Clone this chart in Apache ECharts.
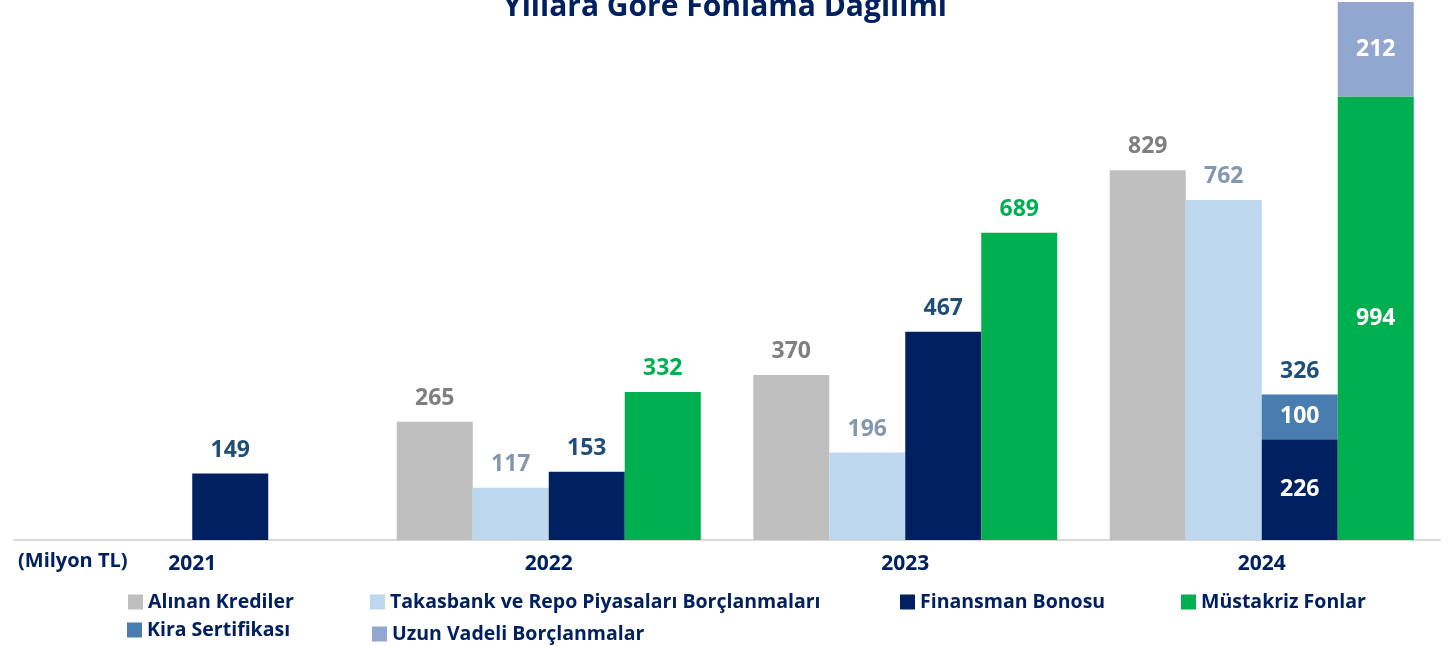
<!DOCTYPE html>
<html>
<head>
<meta charset="utf-8">
<script src="https://cdn.jsdelivr.net/npm/echarts@6/dist/echarts.min.js"></script>
<style>
  html, body { margin: 0; padding: 0; background: #ffffff; }
  #chart { width: 1456px; height: 646px; }
</style>
</head>
<body>
<div id="chart"></div>
<script>
// veriler (Milyon TL)
var years = ['2021', '2022', '2023', '2024']
var alinanKrediler = [null, 265, 370, 829]
var takasbank = [null, 117, 196, 762]
var finansmanBonosu = [149, 153, 467, 226]
var kiraSertifikasi = [null, null, null, 100]
var mustakrizFonlar = [null, 332, 689, 994]
var uzunVadeli = [null, null, null, 212]

var navy = '#002060'
var font = '"Open Sans", "Noto Sans", sans-serif'

function lbl(color, pos) {
  return { show: true, position: pos, color: color, fontSize: 23, fontWeight: 'bold', fontFamily: font, distance: 12 }
}

// finansman bonosu toplami (kira sertifikasi ile birlikte)
var fbTotals = finansmanBonosu.map(function (v, i) {
  return kiraSertifikasi[i] != null ? v + kiraSertifikasi[i] : null
})

var chart = echarts.init(document.getElementById('chart'))

var legendNames = [
  ['Alınan Krediler', 128, 592],
  ['Takasbank ve Repo Piyasaları Borçlanmaları', 370, 592],
  ['Finansman Bonosu', 900, 592],
  ['Müstakriz Fonlar', 1181, 592],
  ['Kira Sertifikası', 127, 620],
  ['Uzun Vadeli Borçlanmalar', 372, 624]
]

var base = { type: 'bar', barWidth: 76, barGap: '0%', animation: false }

chart.setOption({
  title: {
    text: 'Yıllara Göre Fonlama Dağılımı',
    left: 720,
    textAlign: 'center',
    top: -13,
    textStyle: { color: navy, fontSize: 30, fontWeight: 'bold', fontFamily: font }
  },
  grid: { left: 14, right: 16, top: 2, bottom: 106 },
  legend: legendNames.map(function (l) {
    return {
      data: [l[0]],
      left: l[1],
      top: l[2],
      padding: 0,
      icon: 'rect',
      itemWidth: 15,
      itemHeight: 15,
      itemGap: 0,
      textStyle: { color: navy, fontSize: 19.5, fontWeight: 'bold', fontFamily: font },
      selectedMode: false
    }
  }),
  graphic: [{
    type: 'text',
    left: 18,
    top: 551,
    style: { text: '(Milyon TL)', fill: navy, fontSize: 20, fontWeight: 'bold', fontFamily: font }
  }],
  xAxis: {
    type: 'category',
    data: years,
    axisLine: { lineStyle: { color: '#d9d9d9', width: 2 } },
    axisTick: { inside: true, length: 6, lineStyle: { color: '#d9d9d9' } },
    axisLabel: { color: navy, fontSize: 21, fontWeight: 'bold', fontFamily: font, margin: 14 }
  },
  yAxis: {
    type: 'value',
    min: 0,
    max: 1206,
    show: false,
    splitLine: { show: false }
  },
  series: [
    Object.assign({}, base, {
      name: 'Alınan Krediler',
      itemStyle: { color: '#bfbfbf' },
      label: lbl('#7f7f7f', 'top'),
      data: alinanKrediler
    }),
    Object.assign({}, base, {
      name: 'Takasbank ve Repo Piyasaları Borçlanmaları',
      itemStyle: { color: '#bdd7ee' },
      label: lbl('#8497b0', 'top'),
      data: takasbank
    }),
    Object.assign({}, base, {
      name: 'Finansman Bonosu',
      stack: 'fb',
      itemStyle: { color: '#002060' },
      label: lbl('#1f4e79', 'top'),
      data: finansmanBonosu.map(function (v, i) {
        if (kiraSertifikasi[i] != null) return { value: v, label: lbl('#ffffff', 'inside') }
        return v
      })
    }),
    Object.assign({}, base, {
      name: 'Kira Sertifikası',
      stack: 'fb',
      itemStyle: { color: '#4a7daf' },
      label: lbl('#ffffff', 'inside'),
      data: kiraSertifikasi
    }),
    Object.assign({}, base, {
      name: 'fbToplam',
      stack: 'fb',
      itemStyle: { color: 'transparent' },
      label: Object.assign(lbl('#1f4e79', 'top'), {
        formatter: function (p) { return fbTotals[p.dataIndex] }
      }),
      data: fbTotals.map(function (v) { return v == null ? null : 0 })
    }),
    Object.assign({}, base, {
      name: 'Müstakriz Fonlar',
      stack: 'mf',
      itemStyle: { color: '#00b050' },
      label: lbl('#00b050', 'top'),
      data: mustakrizFonlar.map(function (v, i) {
        if (uzunVadeli[i] != null) return { value: v, label: lbl('#ffffff', 'inside') }
        return v
      })
    }),
    Object.assign({}, base, {
      name: 'Uzun Vadeli Borçlanmalar',
      stack: 'mf',
      itemStyle: { color: '#91a7cf' },
      label: lbl('#ffffff', 'inside'),
      data: uzunVadeli
    })
  ]
})
</script>
</body>
</html>
